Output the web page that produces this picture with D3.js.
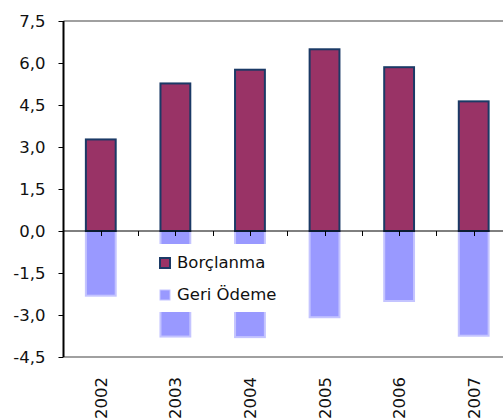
<!DOCTYPE html>
<html><head><meta charset="utf-8">
<script src="https://cdn.jsdelivr.net/npm/d3@7"></script>
<style>
html,body{margin:0;padding:0;background:#fff;}
svg{display:block;font-family:"DejaVu Sans",sans-serif;}
</style></head>
<body>
<svg id="chart" width="503" height="419"></svg>
<script>
const years = ["2002","2003","2004","2005","2006","2007"];
const borclanma = [3.27, 5.27, 5.76, 6.49, 5.85, 4.63];
const geriOdeme = [-2.31, -3.77, -3.79, -3.08, -2.50, -3.74];
const yTicks = [-4.5, -3.0, -1.5, 0, 1.5, 3.0, 4.5, 6.0, 7.5];
const seriesNames = ["Borçlanma", "Geri Ödeme"];

(function () {
const svg = d3.select("#chart");
const pLeft = 63.5, pRight = 511, pTop = 21, pBottom = 357;
const fs = 16.5;
const ff = "'DejaVu Sans', sans-serif";

const x = d3.scaleBand().domain(years).range([pLeft, pRight]).paddingInner(0.6).paddingOuter(0.3);
const y = d3.scaleLinear().domain([-4.5, 7.5]).range([pBottom, pTop]);
const fmt = v => d3.format(".1f")(v).replace(".", ",").replace("−", "-");

// top and bottom gray lines
svg.append("line").attr("x1", pLeft).attr("x2", 503).attr("y1", y(7.5)).attr("y2", y(7.5))
  .attr("stroke", "#a0a0a0").attr("stroke-width", 2);
svg.append("line").attr("x1", pLeft).attr("x2", 503).attr("y1", y(-4.5)).attr("y2", y(-4.5))
  .attr("stroke", "#a0a0a0").attr("stroke-width", 2);

// Geri Ödeme bars
svg.append("g").selectAll("rect").data(geriOdeme).join("rect")
  .attr("x", (d, i) => x(years[i]))
  .attr("width", x.bandwidth())
  .attr("y", y(0))
  .attr("height", d => y(d) - y(0))
  .attr("fill", "#9999ff")
  .attr("stroke", "#c4c4ff").attr("stroke-width", 2);

// Borçlanma bars
svg.append("g").selectAll("rect").data(borclanma).join("rect")
  .attr("x", (d, i) => x(years[i]))
  .attr("width", x.bandwidth())
  .attr("y", d => y(d))
  .attr("height", d => y(0) - y(d))
  .attr("fill", "#993366")
  .attr("stroke", "#1b3a66").attr("stroke-width", 2);

// zero line with half-step ticks
const step = x.step();
const zg = svg.append("g").attr("transform", `translate(0,${y(0)})`);
zg.append("line").attr("x1", pLeft).attr("x2", 503).attr("stroke", "#000").attr("stroke-width", 1);
const tickXs = [];
years.forEach(yr => { tickXs.push(x(yr) + x.bandwidth() / 2); tickXs.push(x(yr) + x.bandwidth() / 2 + step / 2); });
zg.selectAll("line.t").data(tickXs.filter(v => v < 503)).join("line").attr("class", "t")
  .attr("x1", d => Math.round(d) + 0.5).attr("x2", d => Math.round(d) + 0.5)
  .attr("y1", 0).attr("y2", 5).attr("stroke", "#000");

// y axis
const yAxis = d3.axisLeft(y).tickValues(yTicks).tickFormat(fmt).tickSize(5).tickPadding(13);
const ya = svg.append("g").attr("transform", `translate(${pLeft},0)`).call(yAxis);
ya.select(".domain").attr("stroke", "#000").attr("stroke-width", 2).attr("d", `M0,${pTop}V${pBottom}`);
ya.selectAll(".tick line").attr("stroke", "#000");
ya.selectAll(".tick text").attr("font-size", fs).attr("font-family", ff).attr("fill", "#111");

// x labels
svg.append("g").selectAll("text").data(years).join("text")
  .attr("transform", d => `translate(${x(d) + x.bandwidth() / 2 + 6},377) rotate(-90)`)
  .attr("text-anchor", "end")
  .attr("font-size", fs).attr("fill", "#111")
  .text(d => d);

// legend
const lg = svg.append("g");
lg.append("rect").attr("x", 152).attr("y", 244).attr("width", 140).attr("height", 68).attr("fill", "#fff");
lg.append("rect").attr("x", 160).attr("y", 258).attr("width", 10).attr("height", 10)
  .attr("fill", "#993366").attr("stroke", "#1b3a66").attr("stroke-width", 2);
lg.append("rect").attr("x", 160).attr("y", 290).attr("width", 10).attr("height", 10)
  .attr("fill", "#9999ff").attr("stroke", "#c4c4ff").attr("stroke-width", 1);
lg.append("text").attr("x", 177).attr("y", 268).attr("font-size", fs).attr("fill", "#111").text(seriesNames[0]);
lg.append("text").attr("x", 177).attr("y", 300).attr("font-size", fs).attr("fill", "#111").text(seriesNames[1]);
})();
</script>
</body></html>
